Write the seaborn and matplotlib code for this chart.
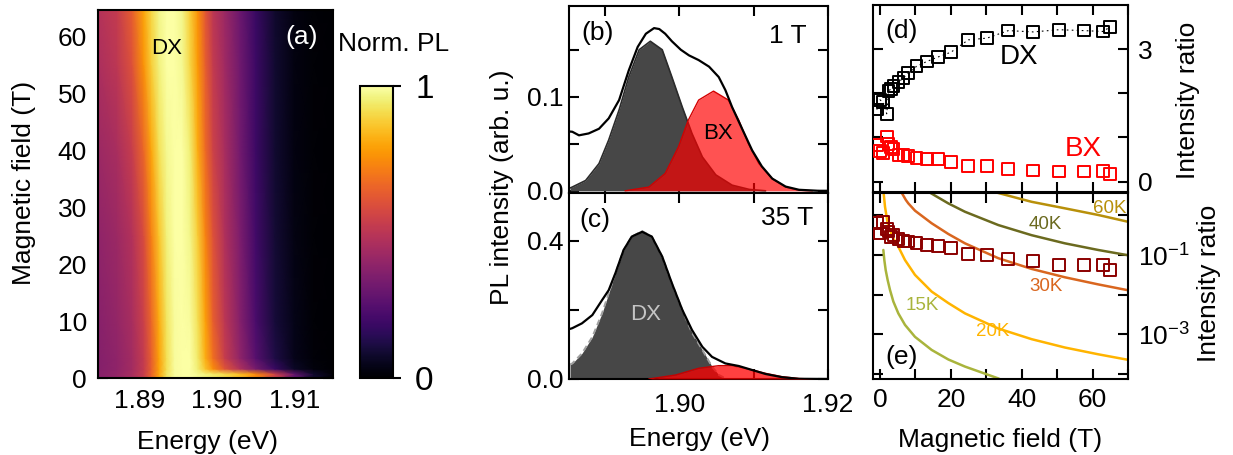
import numpy as np
import pandas as pd
import matplotlib
matplotlib.use("Agg")
import matplotlib.pyplot as plt
from matplotlib.ticker import FixedLocator, NullLocator, FixedFormatter
import seaborn as sns

# ---------------- data ----------------
# (a) normalized PL map
map_E = [1.8846, 1.8870, 1.8890, 1.8905, 1.8915, 1.8925, 1.8935, 1.8945, 1.8955, 1.8965,
         1.8975, 1.8985, 1.8995, 1.9010, 1.9030, 1.9050, 1.9075, 1.9100, 1.9125, 1.9150]
map_B = [0.0, 0.7, 1.6, 3.5, 10, 25, 40, 55, 65]
map_I = [
    [0.37, 0.40, 0.45, 0.53, 0.65, 0.80, 0.93, 0.99, 1.00, 1.00, 0.98, 0.96, 0.94, 0.91, 0.85, 0.74, 0.55, 0.28, 0.08, 0.01],
    [0.37, 0.40, 0.45, 0.53, 0.65, 0.80, 0.93, 0.99, 1.00, 1.00, 0.98, 0.96, 0.94, 0.91, 0.85, 0.74, 0.55, 0.28, 0.08, 0.01],
    [0.36, 0.39, 0.44, 0.52, 0.64, 0.79, 0.92, 0.99, 1.00, 1.00, 0.95, 0.86, 0.75, 0.61, 0.47, 0.33, 0.18, 0.07, 0.02, 0.00],
    [0.36, 0.39, 0.44, 0.52, 0.64, 0.79, 0.92, 0.99, 1.00, 1.00, 0.94, 0.82, 0.68, 0.53, 0.39, 0.25, 0.12, 0.045, 0.012, 0.00],
    [0.37, 0.40, 0.45, 0.54, 0.66, 0.81, 0.93, 0.99, 1.00, 0.99, 0.92, 0.79, 0.64, 0.50, 0.36, 0.22, 0.10, 0.04, 0.01, 0.00],
    [0.39, 0.42, 0.48, 0.58, 0.72, 0.86, 0.96, 1.00, 1.00, 0.97, 0.88, 0.73, 0.60, 0.47, 0.34, 0.20, 0.09, 0.035, 0.01, 0.00],
    [0.42, 0.45, 0.53, 0.66, 0.80, 0.92, 0.98, 1.00, 1.00, 0.95, 0.82, 0.67, 0.55, 0.45, 0.32, 0.19, 0.085, 0.03, 0.01, 0.00],
    [0.46, 0.50, 0.60, 0.76, 0.88, 0.96, 1.00, 1.00, 0.98, 0.90, 0.78, 0.64, 0.52, 0.43, 0.31, 0.19, 0.085, 0.03, 0.01, 0.00],
    [0.48, 0.52, 0.64, 0.80, 0.90, 0.97, 1.00, 1.00, 0.97, 0.88, 0.76, 0.62, 0.50, 0.42, 0.30, 0.18, 0.08, 0.03, 0.01, 0.00],
]

# (b) spectrum at 1 T
b_tot_E = [1.8853, 1.8856, 1.8865, 1.8878, 1.8892, 1.8905, 1.8919, 1.8932, 1.8944, 1.8955, 1.8966, 1.8973,
           1.8981, 1.8990, 1.9002, 1.9013, 1.9026, 1.9040, 1.9053, 1.9062, 1.9071, 1.9085, 1.9098, 1.9111,
           1.9125, 1.9143, 1.9161, 1.9188, 1.9200]
b_tot_I = [0.063, 0.0628, 0.059, 0.061, 0.066, 0.077, 0.0965, 0.128, 0.153, 0.167, 0.173, 0.172,
           0.167, 0.159, 0.150, 0.144, 0.139, 0.132, 0.121, 0.107, 0.089, 0.065, 0.043, 0.026,
           0.013, 0.0045, 0.0011, 0.0, 0.0]
b_dx_E = [1.8853, 1.8856, 1.8874, 1.8892, 1.8905, 1.8919, 1.8932, 1.8946, 1.8961, 1.8977, 1.8990,
          1.9004, 1.9017, 1.9031, 1.9049, 1.9071, 1.9094, 1.9116]
b_dx_I = [0.003, 0.004, 0.011, 0.029, 0.054, 0.086, 0.121, 0.150, 0.159, 0.150, 0.121,
          0.089, 0.061, 0.036, 0.017, 0.006, 0.0015, 0.0]
b_bx_E = [1.8927, 1.8959, 1.8981, 1.8999, 1.9012, 1.9026, 1.9046, 1.9066, 1.9080, 1.9093,
          1.9107, 1.9125, 1.9143, 1.9161, 1.9179]
b_bx_I = [0.0, 0.004, 0.0185, 0.047, 0.075, 0.0965, 0.106, 0.0965, 0.075, 0.050,
          0.029, 0.013, 0.004, 0.0007, 0.0]

# (c) spectrum at 35 T
c_tot_E = [1.8853, 1.8856, 1.8869, 1.8883, 1.8896, 1.8905, 1.8914, 1.8925, 1.8936, 1.8950, 1.8963,
           1.8977, 1.8990, 1.9004, 1.9017, 1.9031, 1.9044, 1.9062, 1.9080, 1.9098, 1.9116, 1.9138,
           1.9161, 1.9200]
c_tot_I = [0.145, 0.147, 0.161, 0.185, 0.228, 0.257, 0.306, 0.373, 0.412, 0.426, 0.412,
           0.354, 0.277, 0.200, 0.142, 0.093, 0.064, 0.045, 0.0376, 0.026, 0.0145, 0.0053,
           0.0005, 0.0]
c_dx_E = [1.8853, 1.8856, 1.8869, 1.8883, 1.8896, 1.8905, 1.8914, 1.8925, 1.8936, 1.8950, 1.8963,
          1.8977, 1.8990, 1.9004, 1.9017, 1.9031, 1.9044, 1.9053, 1.9062]
c_dx_I = [0.042, 0.045, 0.074, 0.122, 0.190, 0.248, 0.306, 0.373, 0.412, 0.428, 0.412,
          0.354, 0.277, 0.200, 0.134, 0.084, 0.036, 0.012, 0.002]
c_bx_E = [1.8959, 1.8995, 1.9026, 1.9053, 1.9071, 1.9089, 1.9116, 1.9138, 1.9161, 1.9183]
c_bx_I = [0.0, 0.0116, 0.031, 0.0386, 0.0386, 0.031, 0.0164, 0.0068, 0.0013, 0.0]

# (d) intensity ratios vs field
field = [-0.9, 0.0, 0.9, 1.9, 2.4, 3.1, 3.8, 5.2, 6.6, 8.0, 10.3, 13.2, 16.3, 20.0,
         24.9, 30.2, 36.2, 43.2, 50.5, 57.5, 62.8, 64.9]
dx_ratio = [1.63, 1.85, 1.80, 1.535, 2.05, 2.10, 2.16, 2.25, 2.35, 2.46, 2.61, 2.72, 2.82, 2.93,
            3.21, 3.25, 3.42, 3.39, 3.44, 3.42, 3.40, 3.50]
bx_ratio = [0.83, 0.70, 0.64, 1.02, 0.85, 0.78, 0.74, 0.61, 0.60, 0.58, 0.54, 0.51, 0.51, 0.45,
            0.36, 0.36, 0.29, 0.25, 0.23, 0.23, 0.24, 0.17]
# (e) BX/DX ratio
bxdx_ratio = [0.63, 0.35, 0.69, 0.45, 0.39, 0.29, 0.32, 0.25, 0.23, 0.22, 0.20, 0.18, 0.17, 0.15,
              0.105, 0.10, 0.079, 0.072, 0.056, 0.056, 0.056, 0.042]

# (e) model curves
k15_B = [0.94, 1.22, 1.6, 2.16, 2.82, 3.76, 5.17, 7.05, 9.87, 14.57, 19.27, 23.97, 28.67, 33.37, 34.3]
k15_R = [0.134, 0.0748, 0.0419, 0.0234, 0.0132, 0.00676, 0.00339, 0.00174, 8.7e-4, 4.07e-4,
         2.34e-4, 1.55e-4, 1.10e-4, 7.8e-5, 7.1e-5]
k20_B = [0.94, 1.41, 2.16, 3.48, 5.17, 7.05, 9.87, 14.57, 19.27, 23.97, 33.37, 42.77, 52.17, 61.57, 69.9]
k20_R = [4.34, 1.65, 0.631, 0.288, 0.162, 0.0748, 0.0316, 0.0120, 0.00617, 0.00339, 0.00141,
         7.6e-4, 4.68e-4, 3.16e-4, 2.3e-4]
k30_B = [6.1, 7.3, 7.99, 9.87, 14.57, 19.27, 23.97, 33.37, 42.77, 52.17, 61.57, 69.9]
k30_R = [3.72, 2.43, 2.0, 1.31, 0.631, 0.339, 0.197, 0.0832, 0.0447, 0.0275, 0.0182, 0.0130]
k40_B = [14.1, 19.27, 23.97, 33.37, 42.77, 52.17, 61.57, 69.9]
k40_R = [3.72, 2.0, 1.23, 0.569, 0.316, 0.197, 0.134, 0.099]
k60_B = [32.0, 38.1, 42.77, 52.17, 61.57, 69.9]
k60_R = [3.94, 2.82, 2.19, 1.50, 1.02, 0.690]

# ---------------- style ----------------
sns.set_theme(style="ticks")
plt.rcParams.update({
    "font.family": ["Liberation Sans", "DejaVu Sans"],
    "mathtext.fontset": "custom",
    "mathtext.rm": "Liberation Sans",
    "mathtext.it": "Liberation Sans:italic",
    "mathtext.default": "regular",
    "axes.linewidth": 1.5,
    "axes.edgecolor": "black",
    "text.color": "black",
    "axes.labelcolor": "black",
    "xtick.color": "black",
    "ytick.color": "black",
})
FS = 19
PFS = 19      # panel letters
KFS = 13.5    # temperature labels

fig = plt.figure(figsize=(12.33, 4.55), dpi=100)
W, H = 1233.0, 455.0


def add_ax(x0, x1, y0, y1):
    return fig.add_axes([x0 / W, 1 - y1 / H, (x1 - x0) / W, (y1 - y0) / H])


def style(ax, pad=6):
    ax.tick_params(which="both", direction="in", top=True, right=True, width=1.5,
                   labelsize=FS, pad=pad)
    ax.tick_params(which="major", length=7)
    ax.tick_params(which="minor", length=3.5)
    for s in ax.spines.values():
        s.set_linewidth(1.5)


ax_a = add_ax(98, 333, 10, 378)
cax = add_ax(360, 393, 86, 378)
ax_b = add_ax(569.3, 828, 6, 192.7)
ax_c = add_ax(569.3, 828, 192.7, 379)
ax_d = add_ax(872.7, 1128.3, 5, 191.7)
ax_e = add_ax(872.7, 1128.3, 192.7, 379.3)

# ---------------- (a) ----------------
mesh = ax_a.pcolormesh(np.array(map_E), np.array(map_B), np.array(map_I),
                       shading="gouraud", cmap="inferno", vmin=0, vmax=1, rasterized=True)
ax_a.set_xlim(1.8846, 1.915)
ax_a.set_ylim(0, 64.7)
style(ax_a, pad=8)
ax_a.xaxis.set_major_locator(FixedLocator([1.89, 1.90, 1.91]))
ax_a.xaxis.set_major_formatter(FixedFormatter(["1.89", "1.90", "1.91"]))
ax_a.xaxis.set_minor_locator(FixedLocator([1.885, 1.895, 1.905]))
ax_a.yaxis.set_major_locator(FixedLocator([0, 10, 20, 30, 40, 50, 60]))
ax_a.yaxis.set_minor_locator(FixedLocator([5, 15, 25, 35, 45, 55]))
ax_a.set_xlabel("Energy (eV)", fontsize=FS)
ax_a.set_ylabel("Magnetic field (T)", fontsize=FS)
ax_a.xaxis.set_label_coords(0.466, -0.141)
ax_a.yaxis.set_label_coords(-0.262, 0.53)
ax_a.text(1.8935, 58.0, "DX", fontsize=16, ha="center", va="center", color="black")
ax_a.text(1.9109, 59.9, "(a)", fontsize=PFS, ha="center", va="center", color="white")

cb = fig.colorbar(mesh, cax=cax, ticks=[0, 1])
cb.outline.set_linewidth(1.5)
cax.tick_params(direction="out", length=6, width=1.5, labelsize=24, pad=10)
cax.set_yticklabels(["0", "1"])
fig.text(338 / W, 1 - 44 / H, "Norm. PL", fontsize=FS, ha="left", va="center")

# ---------------- (b) ----------------
ax_b.fill_between(b_dx_E, b_dx_I, 0, color="#474747", lw=0, zorder=2)
sns.lineplot(x=b_dx_E, y=b_dx_I, ax=ax_b, color="#2b2b2b", lw=1.2, sort=False, zorder=2.1)
ax_b.fill_between(b_bx_E, b_bx_I, 0, color="#ff0000", alpha=0.68, lw=0, zorder=3)
sns.lineplot(x=b_bx_E, y=b_bx_I, ax=ax_b, color="#d40000", lw=1.0, sort=False, zorder=3.1)
sns.lineplot(x=b_tot_E, y=b_tot_I, ax=ax_b, color="black", lw=1.6, sort=False, zorder=4)
ax_b.set_xlim(1.8852, 1.92)
ax_b.set_ylim(-0.002, 0.1965)
style(ax_b, pad=4)
ax_b.xaxis.set_major_locator(FixedLocator([1.89, 1.90, 1.91, 1.92]))
ax_b.set_xticklabels([])
ax_b.yaxis.set_major_locator(FixedLocator([0.0, 0.05, 0.1, 0.15]))
ax_b.yaxis.set_major_formatter(FixedFormatter(["0.0", "", "0.1", ""]))
ax_b.set_xlabel("")
ax_b.set_ylabel("")
ax_b.text(1.8890, 0.168, "(b)", fontsize=PFS, ha="center", va="center")
ax_b.text(1.9146, 0.1646, "1 T", fontsize=FS, ha="center", va="center")
ax_b.text(1.9052, 0.061, "BX", fontsize=16, ha="center", va="center")

# ---------------- (c) ----------------
ax_c.fill_between(c_dx_E, c_dx_I, 0, color="#474747", lw=0, zorder=2)
sns.lineplot(x=c_dx_E, y=c_dx_I, ax=ax_c, color="#a0a0a0", lw=1.4, sort=False, zorder=2.1,
             linestyle=(0, (3, 2)))
ax_c.fill_between(c_bx_E, c_bx_I, 0, color="#ff0000", alpha=0.75, lw=0, zorder=3)
sns.lineplot(x=c_bx_E, y=c_bx_I, ax=ax_c, color="#c80000", lw=1.0, sort=False, zorder=3.1)
sns.lineplot(x=c_tot_E, y=c_tot_I, ax=ax_c, color="black", lw=1.6, sort=False, zorder=4)
ax_c.set_xlim(1.8852, 1.92)
ax_c.set_ylim(0, 0.539)
style(ax_c, pad=4)
ax_c.xaxis.set_major_locator(FixedLocator([1.89, 1.90, 1.91, 1.92]))
ax_c.xaxis.set_major_formatter(FixedFormatter(["", "1.90", "", "1.92"]))
ax_c.tick_params(axis="x", pad=10)
ax_c.yaxis.set_major_locator(FixedLocator([0.0, 0.2, 0.4]))
ax_c.yaxis.set_major_formatter(FixedFormatter(["0.0", "", "0.4"]))
ax_c.set_ylabel("")
ax_c.set_xlabel("Energy (eV)", fontsize=FS)
ax_c.xaxis.set_label_coords(0.503, -0.258)
ax_c.text(1.8887, 0.46, "(c)", fontsize=PFS, ha="center", va="center")
ax_c.text(1.9145, 0.466, "35 T", fontsize=FS, ha="center", va="center")
ax_c.text(1.8954, 0.188, "DX", fontsize=16, ha="center", va="center", color="#c4c4c4", zorder=5)
fig.text(502 / W, 1 - 187 / H, "PL intensity (arb. u.)", fontsize=FS, rotation=90,
         ha="center", va="center")

# ---------------- (d) ----------------
dfr = pd.DataFrame({"B": field, "DX": dx_ratio, "BX": bx_ratio, "R": bxdx_ratio})
ax_d.plot(dfr["B"], dfr["DX"], color="black", lw=0.8, linestyle=(0, (1.5, 3)), zorder=1)
sns.scatterplot(data=dfr, x="B", y="DX", ax=ax_d, marker="s", s=72, facecolor="none",
                edgecolor="black", linewidth=1.4, zorder=3)
sns.scatterplot(data=dfr, x="B", y="BX", ax=ax_d, marker="s", s=72, facecolor="none",
                edgecolor="#ff0000", linewidth=1.4, zorder=3)
ax_d.set_xlim(-2.06, 70.04)
ax_d.set_ylim(-0.23, 4.0)
style(ax_d, pad=7)
ax_d.tick_params(axis="y", labelleft=False, labelright=True)
ax_d.xaxis.set_major_locator(FixedLocator([0, 10, 20, 30, 40, 50, 60, 70]))
ax_d.set_xticklabels([])
ax_d.yaxis.set_major_locator(FixedLocator([0, 1, 2, 3]))
ax_d.yaxis.set_major_formatter(FixedFormatter(["0", "", "", "3"]))
ax_d.set_xlabel("")
ax_d.set_ylabel("Intensity ratio", fontsize=FS)
ax_d.yaxis.set_label_position("right")
ax_d.yaxis.set_label_coords(1.185, 0.491)
ax_d.text(6.15, 3.40, "(d)", fontsize=PFS, ha="center", va="center")
ax_d.text(39.1, 2.82, "DX", fontsize=20, ha="center", va="center")
ax_d.text(57.3, 0.74, "BX", fontsize=20, ha="center", va="center", color="#ff0000")

# ---------------- (e) ----------------
curves = [(k15_B, k15_R, "#a9b43c"), (k20_B, k20_R, "#ffb400"), (k30_B, k30_R, "#d9661f"),
          (k40_B, k40_R, "#6b6a1f"), (k60_B, k60_R, "#b8900a")]
for xb, yr, col in curves:
    sns.lineplot(x=xb, y=yr, ax=ax_e, color=col, lw=1.8, sort=False, zorder=2)
sns.scatterplot(data=dfr, x="B", y="R", ax=ax_e, marker="s", s=72, facecolor="none",
                edgecolor="#8b0000", linewidth=1.4, zorder=3)
ax_e.set_yscale("log")
ax_e.set_xlim(-2.06, 70.04)
ax_e.set_ylim(10 ** -4.13, 10 ** 0.57)
style(ax_e, pad=6)
ax_e.tick_params(axis="y", labelleft=False, labelright=True, pad=7)
ax_e.xaxis.set_major_locator(FixedLocator([0, 10, 20, 30, 40, 50, 60, 70]))
ax_e.xaxis.set_major_formatter(FixedFormatter(["0", "", "20", "", "40", "", "60", ""]))
ax_e.yaxis.set_major_locator(FixedLocator([1, 0.1, 0.01, 0.001, 0.0001]))
ax_e.yaxis.set_major_formatter(FixedFormatter(["", "$10^{-1}$", "", "$10^{-3}$", ""]))
ax_e.yaxis.set_minor_locator(NullLocator())
ax_e.set_xlabel("Magnetic field (T)", fontsize=FS)
ax_e.xaxis.set_label_coords(0.498, -0.261)
ax_e.set_ylabel("Intensity ratio", fontsize=FS)
ax_e.yaxis.set_label_position("right")
ax_e.yaxis.set_label_coords(1.269, 0.516)
ax_e.text(64.8, 1.5, "60K", fontsize=KFS, ha="center", va="center", color="#b8900a")
ax_e.text(46.5, 0.6, "40K", fontsize=KFS, ha="center", va="center", color="#6b6a1f")
ax_e.text(46.8, 0.0159, "30K", fontsize=KFS, ha="center", va="center", color="#d9661f")
ax_e.text(11.8, 0.0055, "15K", fontsize=KFS, ha="center", va="center", color="#a9b43c")
ax_e.text(31.9, 0.00117, "20K", fontsize=KFS, ha="center", va="center", color="#ffb400")
ax_e.text(6.2, 2.75e-4, "(e)", fontsize=PFS, ha="center", va="center")

fig.savefig("out.png", dpi=100)
